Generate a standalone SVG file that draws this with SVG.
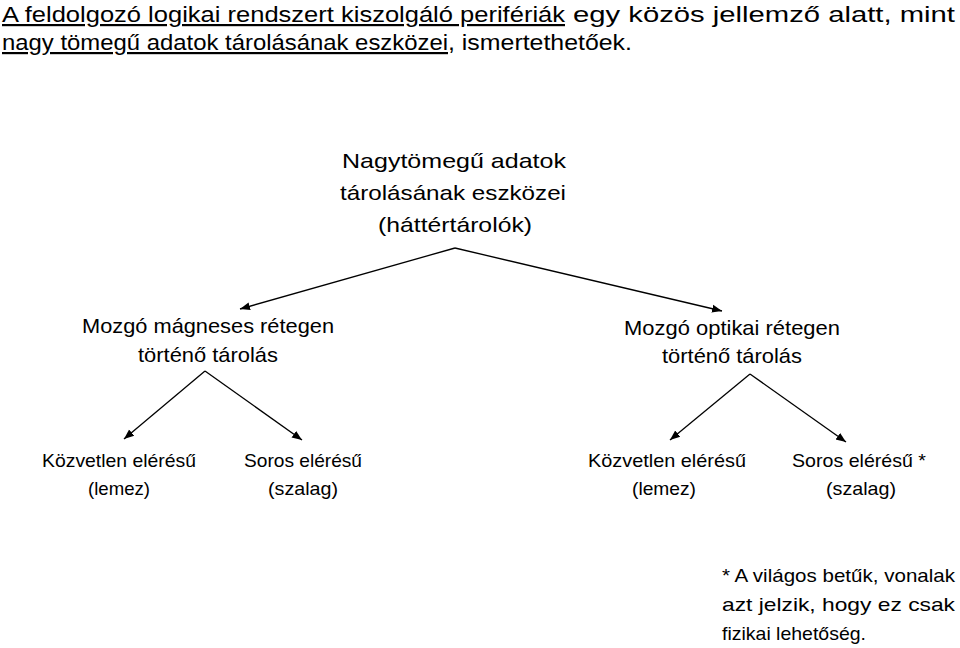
<svg xmlns="http://www.w3.org/2000/svg" width="960" height="648" viewBox="0 0 960 648">
<defs>
<marker id="ah" viewBox="0 0 10 10" refX="10" refY="5" markerWidth="10" markerHeight="10" markerUnits="userSpaceOnUse" orient="auto"><path d="M0,1 L10,5 L0,9 z" fill="#000"/></marker>
<style>
text{font-family:"Liberation Sans",Arial,sans-serif;fill:#000}
.t{font-size:22px}
.n{font-size:21px}
.f{font-size:19px}
.u{text-decoration:underline}
line{stroke:#000;stroke-width:1.3;marker-end:url(#ah)}
</style>
</defs>
<rect width="960" height="648" fill="#fff"/>
<g id="intro">
<text class="t u" x="2" y="22" textLength="563" lengthAdjust="spacingAndGlyphs">A feldolgozó logikai rendszert kiszolgáló perifériák</text>
<text class="t" x="573" y="22" textLength="382" lengthAdjust="spacingAndGlyphs">egy közös jellemző alatt, mint</text>
<text class="t u" x="2" y="50" textLength="446" lengthAdjust="spacingAndGlyphs">nagy tömegű adatok tárolásának eszközei</text>
<text class="t" x="448" y="50" textLength="184" lengthAdjust="spacingAndGlyphs">, ismertethetőek.</text>
</g>
<g id="root">
<text class="n" x="342" y="168" textLength="224" lengthAdjust="spacingAndGlyphs">Nagytömegű adatok</text>
<text class="n" x="340" y="200" textLength="226" lengthAdjust="spacingAndGlyphs">tárolásának eszközei</text>
<text class="n" x="378" y="232" textLength="154" lengthAdjust="spacingAndGlyphs">(háttértárolók)</text>
</g>
<g id="magnetic">
<text class="n" x="82" y="333" textLength="252" lengthAdjust="spacingAndGlyphs">Mozgó mágneses rétegen</text>
<text class="n" x="138" y="362" textLength="140" lengthAdjust="spacingAndGlyphs">történő tárolás</text>
</g>
<g id="optical">
<text class="n" x="624" y="335" textLength="216" lengthAdjust="spacingAndGlyphs">Mozgó optikai rétegen</text>
<text class="n" x="662" y="363" textLength="140" lengthAdjust="spacingAndGlyphs">történő tárolás</text>
</g>
<g id="mag-direct">
<text class="f" x="42" y="467" textLength="154" lengthAdjust="spacingAndGlyphs">Közvetlen elérésű</text>
<text class="f" x="88" y="495" textLength="62" lengthAdjust="spacingAndGlyphs">(lemez)</text>
</g>
<g id="mag-serial">
<text class="f" x="244" y="467" textLength="118" lengthAdjust="spacingAndGlyphs">Soros elérésű</text>
<text class="f" x="268" y="495" textLength="70" lengthAdjust="spacingAndGlyphs">(szalag)</text>
</g>
<g id="opt-direct">
<text class="f" x="588" y="467" textLength="158" lengthAdjust="spacingAndGlyphs">Közvetlen elérésű</text>
<text class="f" x="632" y="495" textLength="64" lengthAdjust="spacingAndGlyphs">(lemez)</text>
</g>
<g id="opt-serial">
<text class="f" x="792" y="467" textLength="134" lengthAdjust="spacingAndGlyphs">Soros elérésű *</text>
<text class="f" x="826" y="495" textLength="70" lengthAdjust="spacingAndGlyphs">(szalag)</text>
</g>
<g id="footnote">
<text class="f" x="722" y="582" textLength="233" lengthAdjust="spacingAndGlyphs">* A világos betűk, vonalak</text>
<text class="f" x="722" y="611" textLength="233" lengthAdjust="spacingAndGlyphs">azt jelzik, hogy ez csak</text>
<text class="f" x="722" y="640" textLength="144" lengthAdjust="spacingAndGlyphs">fizikai lehetőség.</text>
</g>
<g id="connectors">
<line x1="455" y1="248" x2="240" y2="309"/>
<line x1="455" y1="248" x2="722" y2="311"/>
<line x1="205" y1="371" x2="124" y2="439"/>
<line x1="205" y1="371" x2="302" y2="440"/>
<line x1="750" y1="374" x2="670" y2="440"/>
<line x1="750" y1="374" x2="846" y2="442"/>
</g>
</svg>
